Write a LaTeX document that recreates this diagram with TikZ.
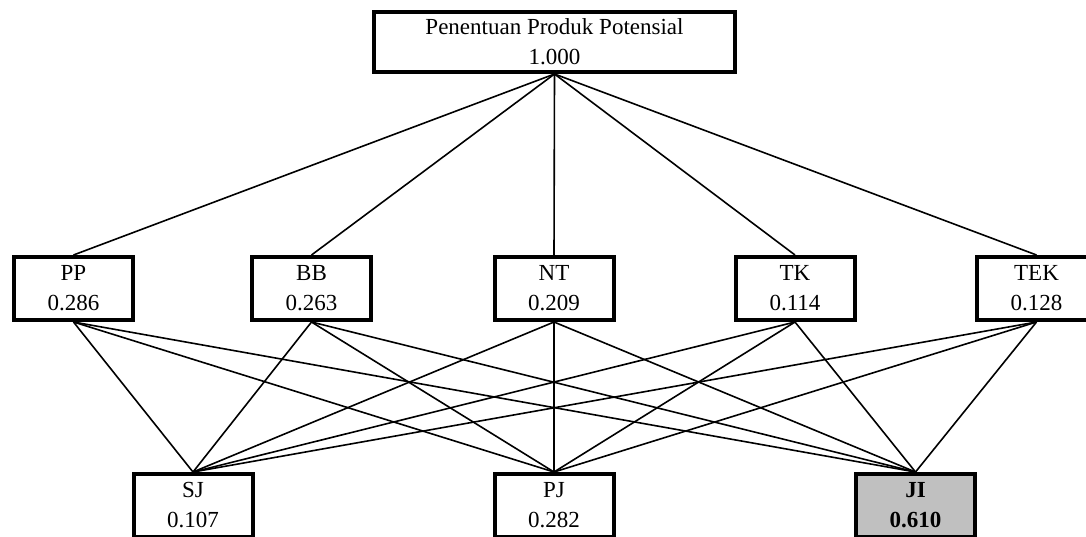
\documentclass[tikz,border=0pt]{standalone}
\usepackage{fontspec}
\setmainfont{Liberation Serif}
\tikzset{
  critbox/.style={draw=black, line width=4pt, fill=white, minimum width=119pt, minimum height=63pt, inner sep=0pt, align=center, font=\fontsize{23}{30}\selectfont},
  topbox/.style={critbox, minimum width=361pt, minimum height=60pt},
  altbox/.style={critbox},
  bestbox/.style={critbox, fill=bestgray, font=\fontsize{23}{30}\selectfont\bfseries},
  link/.style={draw=black, line width=1.6pt}
}
\definecolor{bestgray}{HTML}{C0C0C0}
\begin{document}
\begin{tikzpicture}[x=1pt,y=-1pt]
\useasboundingbox (0,0) rectangle (1086,536);
\clip (0,0) rectangle (1086,536);
% nodes
\node[topbox] (goal) at (554.5,42) {Penentuan Produk Potensial\\1.000};
\node[critbox] (PP) at (73.5,288.5) {PP\\0.286};
\node[critbox] (BB) at (311.5,288.5) {BB\\0.263};
\node[critbox] (NT) at (554,288.5) {NT\\0.209};
\node[critbox] (TK) at (795,288.5) {TK\\0.114};
\node[critbox] (TEK) at (1036.5,288.5) {TEK\\0.128};
\node[altbox] (SJ) at (193,505.5) {SJ\\0.107};
\node[altbox] (PJ) at (554,505.5) {PJ\\0.282};
\node[bestbox] (JI) at (915.5,505.5) {JI\\0.610};
% connectors
\foreach \c in {PP,BB,NT,TK,TEK} {
  \draw[link] (goal.south) -- (\c.north);
  \foreach \a in {SJ,PJ,JI} {
    \draw[link] (\c.south) -- (\a.north);
  }
}
\end{tikzpicture}
\end{document}
